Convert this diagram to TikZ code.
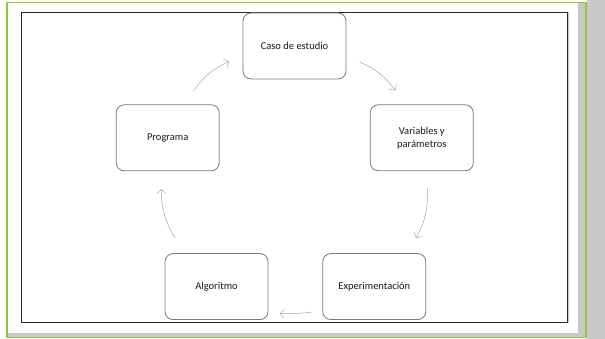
\documentclass[tikz,border=0pt]{standalone}
\usepackage{fontspec}
\setmainfont{Carlito}
\usepackage{xcolor}
\definecolor{marco_verde}{RGB}{141, 198, 63}
\definecolor{sombra}{RGB}{200, 200, 200}
\definecolor{borde}{RGB}{120, 120, 120}
\definecolor{flecha}{RGB}{165, 165, 165}
\usetikzlibrary{arrows.meta, positioning}

\begin{document}
\begin{tikzpicture}[
        x=1pt, y=1pt,
        etapa/.style={rectangle, rounded corners=8pt, draw=borde, line width=0.8pt,
                      fill=white, minimum width=103pt, minimum height=66pt,
                      align=center, font=\fontsize{10.5}{13}\selectfont, text=black!90},
        flujo/.style={-{Straight Barb[length=4pt, width=9pt]}, line width=0.5pt,
                      color=flecha, bend left=15},
      ]
        % fondo y marco
        \useasboundingbox (0,0) rectangle (605,339);
        \fill[white] (0,0) rectangle (605,339);
        \fill[sombra] (587,0) rectangle (605,339);
        \draw[marco_verde, line width=1.6pt, fill=sombra] (7,1.5) rectangle (586,336.5);
        \fill[white] (7.8,6) rectangle (578,335.7);
        \draw[gray!45, line width=1pt] (20.5,326.5) -- (568,326.5) -- (568,16);
        \draw[black!85, line width=1pt] (21,16) rectangle (567.5,326);

        \node[etapa] (caso) at (294.5,293) {Caso de estudio};
        \node[etapa, below right=25pt and 23.5pt of caso] (var)  {Variables y\\ parámetros};
        \node[etapa, below left=25pt and 23pt of caso]    (prog) {Programa};
        \node[etapa, below right=82pt and -55pt of prog]  (alg)  {Algoritmo};
        \node[etapa, right=54pt of alg]                   (exp)  {Experimentación};

        \draw[flujo] ([shift={(13,-16)}]caso.east) to ([shift={(-26.5,14)}]var.north);
        \draw[flujo] ([shift={(5.5,-17)}]var.south) to ([shift={(-10,15)}]exp.north east);
        \draw[flujo, bend left=5] ([shift={(-10.5,8)}]exp.south west) to ([shift={(11.5,6.5)}]alg.south east);
        \draw[flujo] ([shift={(10.5,15)}]alg.north west) to ([shift={(-6.5,-18)}]prog.south);
        \draw[flujo] ([shift={(-26,13.5)}]prog.north east) to ([shift={(-13.5,-15.5)}]caso.west);
      \end{tikzpicture}
\end{document}
